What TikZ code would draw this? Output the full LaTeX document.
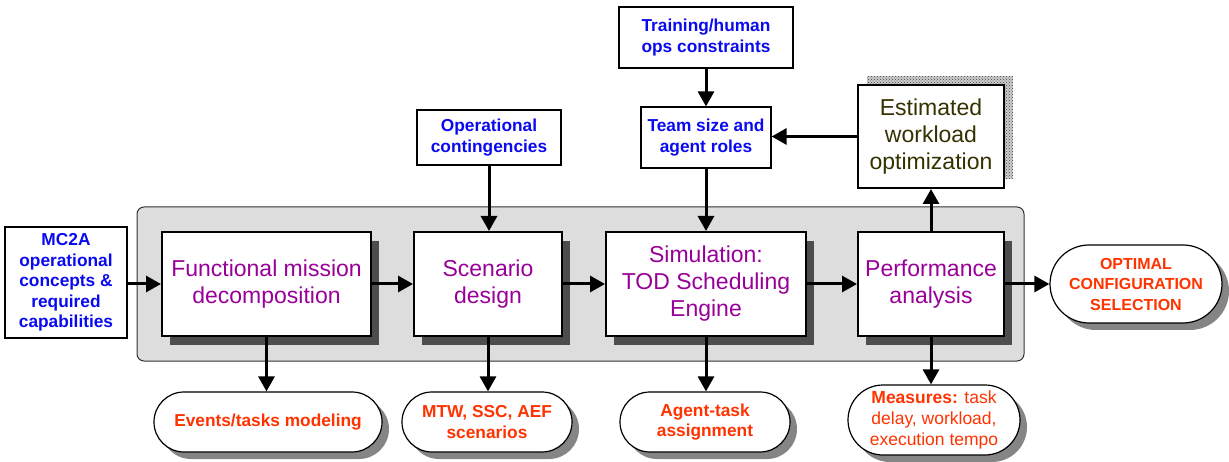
\documentclass[tikz,border=0pt]{standalone}
\usepackage{fontspec}
\setmainfont{Liberation Sans}
\usetikzlibrary{arrows.meta,shapes.misc,shadows,patterns}
\definecolor{procpurple}{HTML}{990099}
\definecolor{inblue}{HTML}{0A0AF0}
\definecolor{outred}{HTML}{FF3300}
\definecolor{darkolive}{HTML}{333300}
\definecolor{panelgray}{HTML}{DDDDDD}
\definecolor{shadowdark}{HTML}{4D4D4D}
\definecolor{shadowmid}{HTML}{858585}
\tikzset{
  proc/.style={draw=black, line width=2pt, fill=white, rectangle, align=center,
    text=procpurple, font=\fontsize{23}{27}\selectfont,
    general shadow={fill=shadowdark, shadow xshift=8pt, shadow yshift=-9pt}},
  inbox/.style={draw=black, line width=1.2pt, fill=white, rectangle, align=center,
    text=inblue, font=\fontsize{17.3}{20.5}\selectfont\bfseries},
  outoval/.style={draw=black, line width=1.2pt, fill=white, rounded rectangle,
    align=center, text=outred, font=\fontsize{17.3}{20.5}\selectfont\bfseries,
    general shadow={fill=shadowmid, shadow xshift=7pt, shadow yshift=-7pt}},
  link/.style={line width=3pt, -{Triangle[length=15pt,width=16pt]}},
}
\begin{document}
\begin{tikzpicture}[x=1pt, y=-1pt]
\useasboundingbox (0,0) rectangle (1229,462);

% grey panel holding the main process chain
\node[draw=black!80, line width=1pt, fill=panelgray, rounded corners=7pt,
  minimum width=887pt, minimum height=154pt, inner sep=0pt] (panel) at (580.5,284) {};

% inputs
\node[inbox, minimum width=122pt, minimum height=111pt, inner sep=0pt] (mc2a) at (66,282.5)
  {MC2A\\operational\\concepts \&\\required\\capabilities};
\node[inbox, minimum width=144pt, minimum height=55pt, inner sep=0pt] (opc) at (489,137.5)
  {Operational\\contingencies};
\node[inbox, minimum width=174pt, minimum height=61pt, inner sep=0pt] (train) at (706,37.5)
  {Training/human\\ops constraints};
\node[inbox, minimum width=130pt, minimum height=61pt, inner sep=0pt] (team) at (706,137.5)
  {Team size and\\agent roles};

% process chain
\node[proc, minimum width=209pt, minimum height=104pt, inner sep=0pt] (fmd) at (266.5,284)
  {Functional mission\\decomposition};
\node[proc, minimum width=148pt, minimum height=104pt, inner sep=0pt] (scen) at (488,284)
  {Scenario\\design};
\node[proc, minimum width=200pt, minimum height=104pt, inner sep=0pt] (sim) at (706,284)
  {Simulation:\\TOD Scheduling\\Engine};
\node[proc, minimum width=146pt, minimum height=104pt, inner sep=0pt] (perf) at (931,284)
  {Performance\\analysis};

% workload optimisation box with stippled shadow
\node[draw=black, line width=2pt, fill=white, align=center, text=darkolive,
  font=\fontsize{23}{27}\selectfont, minimum width=146pt, minimum height=103pt, inner sep=0pt,
  general shadow={fill=gray!40, shadow xshift=9pt, shadow yshift=9pt},
  general shadow={pattern=crosshatch dots, pattern color=black!75, shadow xshift=9pt, shadow yshift=9pt}]
  (est) at (931,136.5) {Estimated\\workload\\optimization};

% outputs
\node[outoval, minimum width=172pt, minimum height=78pt, inner sep=0pt,
  font=\fontsize{16}{20.5}\selectfont\bfseries] (opt) at (1136,284)
  {OPTIMAL\\CONFIGURATION\\SELECTION};
\node[outoval, minimum width=228pt, minimum height=60pt, inner sep=0pt] (evt) at (268,422)
  {Events/tasks modeling};
\node[outoval, minimum width=170pt, minimum height=60pt, inner sep=0pt] (mtw) at (487,422)
  {MTW, SSC, AEF\\scenarios};
\node[outoval, minimum width=170pt, minimum height=60pt, inner sep=0pt] (agt) at (705,422)
  {Agent-task\\assignment};
\node[outoval, minimum width=172pt, minimum height=70pt, inner sep=0pt,
  font=\fontsize{17.5}{21}\selectfont] (meas) at (934,420)
  {{\bfseries Measures:} task\\delay, workload,\\execution tempo};

% connectors
\draw[link] (mc2a.east |- fmd.west) -- (fmd.west);
\draw[link] (fmd.east) -- (scen.west);
\draw[link] (scen.east) -- (sim.west);
\draw[link] (sim.east) -- (perf.west);
\draw[link] (perf.east) -- (opt.west);
\draw[link] (opc.south) -- (opc.south |- scen.north);
\draw[link] (train.south) -- (team.north);
\draw[link] (team.south) -- (sim.north);
\draw[link] (est.west) -- (team.east |- est.west);
\draw[link] (perf.north) -- (est.south);
\draw[link] (fmd.south) -- (fmd.south |- evt.north);
\draw[link] (scen.south) -- (scen.south |- mtw.north);
\draw[link] (sim.south) -- (sim.south |- agt.north);
\draw[link] (perf.south) -- (perf.south |- meas.north);
\end{tikzpicture}
\end{document}
